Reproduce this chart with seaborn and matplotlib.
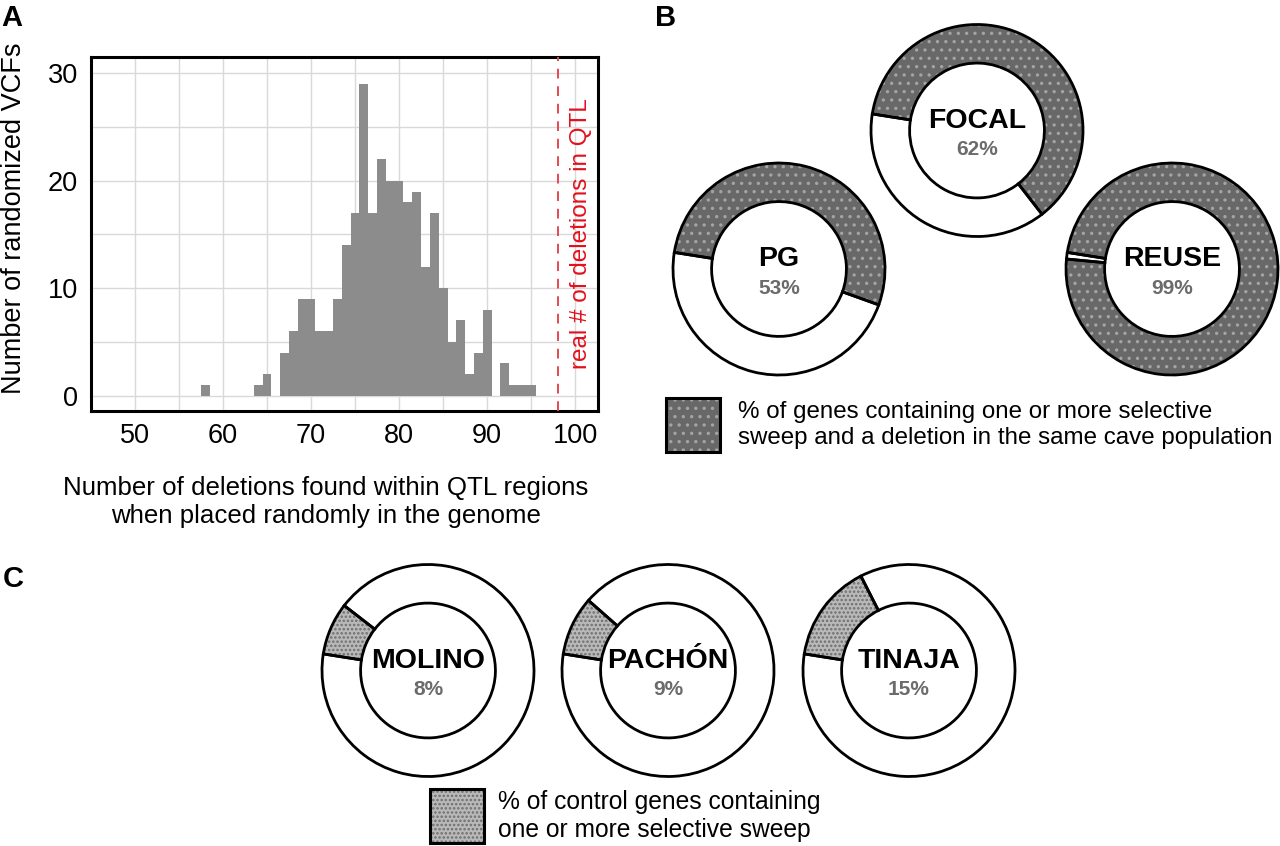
import numpy as np
import pandas as pd
import matplotlib
matplotlib.use("Agg")
import matplotlib.pyplot as plt
from matplotlib.patches import Rectangle
import seaborn as sns

# panel A: histogram of deletions in QTL (bin centre -> count)
del_bins = [58, 64, 65, 67, 68, 69, 70, 71, 72, 73, 74, 75, 76, 77, 78, 79, 80,
            81, 82, 83, 84, 85, 86, 87, 88, 89, 90, 92, 93, 94, 95]
del_counts = [1, 1, 2, 4, 6, 9, 9, 6, 6, 9, 14, 17, 29, 17, 22, 20, 20,
              18, 19, 12, 17, 10, 5, 7, 2, 4, 8, 3, 1, 1, 1]
real_deletions = 98
x_ticks = [50, 60, 70, 80, 90, 100]
y_ticks = [0, 10, 20, 30]

# panel B / C: donuts
groups_b = ["PG", "FOCAL", "REUSE"]
pct_b = [53, 62, 99]
groups_c = ["MOLINO", "PACHÓN", "TINAJA"]
pct_c = [8, 9, 15]

sns.set_theme(style="white")
plt.rcParams["font.family"] = ["Liberation Sans", "DejaVu Sans"]
plt.rcParams["text.color"] = "black"
plt.rcParams["axes.labelcolor"] = "black"
plt.rcParams["hatch.linewidth"] = 1.2

W, H = 1280, 846
fig = plt.figure(figsize=(12.8, 8.46), dpi=100)


def fx(px):
    return px / W


def fy(py):
    return 1 - py / H


# ---- A ----
ax = fig.add_axes([fx(90.7), fy(410.7), fx(598 - 90.7), (410.7 - 57.3) / H])
df = pd.DataFrame({"deletions": del_bins, "n": del_counts})
sns.histplot(data=df, x="deletions", weights="n", binwidth=1, binrange=(57.5, 95.5),
             color="#8c8c8c", alpha=1, linewidth=0, ax=ax, zorder=2)
ax.set_xlim(47.43, 102.58)
ax.set_ylim(-1.4, 31.49)
ax.set_xticks(x_ticks)
ax.set_yticks(y_ticks)
ax.set_xticks(np.arange(45, 105, 5), minor=True)
ax.set_yticks(np.arange(0, 35, 5), minor=True)
ax.grid(True, which="both", color="#d9d9d9", lw=1, zorder=0)
ax.set_axisbelow(True)
ax.tick_params(which="both", length=0, labelsize=19.5, pad=9, colors="black")
for s in ax.spines.values():
    s.set_color("black")
    s.set_linewidth(2.2)
ax.axvline(real_deletions, color="#e8474f", ls=(0, (5, 4)), lw=1.4, zorder=3)
ax.text(100.6, 15.1, "real # of deletions in QTL", rotation=90, color="#e3101c",
        fontsize=17.5, ha="center", va="center")
ax.set_xlabel("Number of deletions found within QTL regions\nwhen placed randomly in the genome",
              fontsize=18.6, linespacing=1.2, va="top")
ax.xaxis.set_label_coords(0.464, -0.186)
ax.set_ylabel("Number of randomized VCFs", fontsize=19.5, va="bottom")
ax.yaxis.set_label_coords(-0.125, 0.545)

fig.text(fx(1), fy(4), "A", fontsize=21, fontweight="bold", va="top", ha="left")
fig.text(fx(655), fy(4), "B", fontsize=21, fontweight="bold", va="top", ha="left")
fig.text(fx(3), fy(565), "C", fontsize=21, fontweight="bold", va="top", ha="left")

R = 106
INNER = 0.636


def donut(cx, cy, name, pct, face, hatch, hcolor):
    pad = 1.08
    a = fig.add_axes([fx(cx - R * pad), fy(cy + R * pad), fx(2 * R * pad), 2 * R * pad / H])
    vals = [pct, 100 - pct]
    w1, _ = a.pie(vals, startangle=171, counterclock=False, radius=1,
                  colors=[face, "white"],
                  wedgeprops=dict(width=1 - INNER, linewidth=0, edgecolor=hcolor))
    w1[0].set_hatch(hatch)
    a.pie(vals, startangle=171, counterclock=False, radius=1,
          colors=["none", "none"],
          wedgeprops=dict(width=1 - INNER, linewidth=2, edgecolor="black"))
    a.set_xlim(-pad, pad)
    a.set_ylim(-pad, pad)
    a.set_aspect("auto")
    a.axis("off")
    fig.text(fx(cx), fy(cy - 10), name, fontsize=20.5, fontweight="bold",
             ha="center", va="center")
    fig.text(fx(cx), fy(cy + 19), f"{pct}%", fontsize=15, fontweight="bold",
             color="#6b6b6b", ha="center", va="center")


B_FACE, B_HATCH, B_HC = "#686868", "..", "#a4a4a4"
C_FACE, C_HATCH, C_HC = "#b9b9b9", "....", "#6e6e6e"

for (cx, cy), name, p in zip([(779, 269), (977, 130.5), (1172, 269)], groups_b, pct_b):
    donut(cx, cy, name, p, B_FACE, B_HATCH, B_HC)
for (cx, cy), name, p in zip([(428, 670.5), (668, 670.5), (909, 670.5)], groups_c, pct_c):
    donut(cx, cy, name, p, C_FACE, C_HATCH, C_HC)


def legend_box(x0, y0, size, face, hatch, hcolor, text, tx, fs):
    r1 = Rectangle((fx(x0), fy(y0 + size)), fx(size), size / H, transform=fig.transFigure,
                   facecolor=face, edgecolor=hcolor, hatch=hatch, lw=0)
    r2 = Rectangle((fx(x0), fy(y0 + size)), fx(size), size / H, transform=fig.transFigure,
                   facecolor="none", edgecolor="black", lw=2.2)
    fig.add_artist(r1)
    fig.add_artist(r2)
    fig.text(fx(tx), fy(y0 + size / 2), text, fontsize=fs, ha="left", va="center",
             linespacing=1.2)


legend_box(666, 398, 54, B_FACE, B_HATCH, B_HC,
           "% of genes containing one or more selective\nsweep and a deletion in the same cave population",
           738, 17.4)
legend_box(430, 789, 54, C_FACE, C_HATCH, C_HC,
           "% of control genes containing\none or more selective sweep", 498, 17.7)

fig.savefig("out.png", dpi=100, facecolor="white")
